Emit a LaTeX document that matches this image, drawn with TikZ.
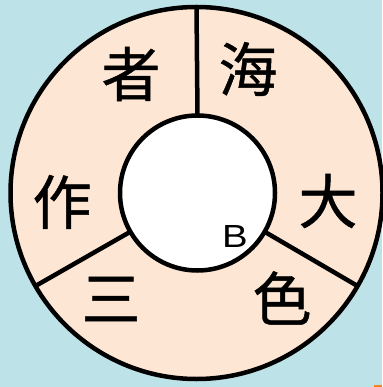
\documentclass[tikz,border=0pt]{standalone}
\usepackage{fontspec}
\setmainfont{Liberation Sans}
\newfontfamily\cjk[FakeBold=0.8]{Noto Sans CJK SC}
\definecolor{bgblue}{RGB}{189,226,232}
\definecolor{peach}{RGB}{254,230,212}
\definecolor{tinyorange}{RGB}{240,130,40}
\begin{document}
\begin{tikzpicture}[x=1pt,y=-1pt,
  ring/.style={circle, draw=black, line width=4.5pt, inner sep=0pt, outer sep=0pt},
  hanzi/.style={font=\cjk\fontsize{59}{59}\selectfont, inner sep=0pt},
  spoke/.style={line width=4.5pt}]
\useasboundingbox (0,0) rectangle (382,387);
\fill[bgblue] (0,0) rectangle (382,387);
\fill[tinyorange] (374,384.5) rectangle (382,387);
\node[ring, fill=peach, minimum size=372pt] (outer) at (196.5,193) {};
\node[ring, fill=white, minimum size=155pt] (inner) at (197.5,193) {};
\draw[spoke] (inner.90) -- (outer.90);
\draw[spoke] (inner.210) -- (outer.210);
\draw[spoke] (inner.330) -- (outer.330);
\node[hanzi] (zhe) at (131,74) {者};
\node[hanzi] (hai) at (248,69) {海};
\node[hanzi] (zuo) at (62,202) {作};
\node[hanzi] (da) at (328,201) {大};
\node[hanzi] (san) at (111,299) {三};
\node[hanzi] (se) at (282,298) {色};
\node[font=\fontsize{32}{32}\selectfont, inner sep=0pt, xscale=1.2, transform shape] (b) at (235,236) {B};
\end{tikzpicture}
\end{document}
